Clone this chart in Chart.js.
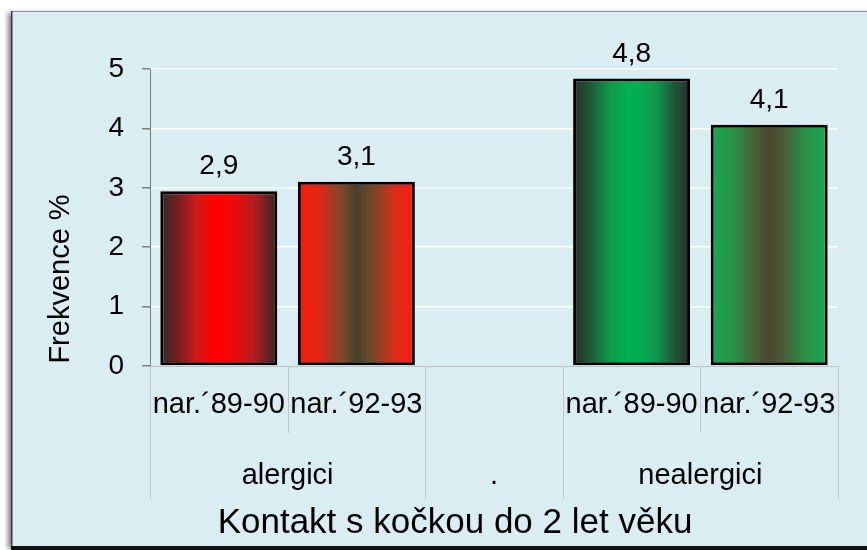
<!DOCTYPE html>
<html>
<head>
<meta charset="utf-8">
<script src="https://cdn.jsdelivr.net/npm/chart.js@4"></script>
<style>
  html, body { margin: 0; padding: 0; background: #fff; }
  #wrap { width: 867px; height: 550px; }
</style>
</head>
<body>
<div id="wrap"><canvas id="chart"></canvas></div>
<script>
// data
const categories = ['nar.´89-90', 'nar.´92-93', '', 'nar.´89-90', 'nar.´92-93'];
const groups = ['alergici', '.', 'nealergici'];
const groupSpans = [2, 1, 2];
const frekvence = [2.94, 3.1, null, 4.84, 4.06];
const yMin = 0;
const yMax = 5;
const yStep = 1;
const yTitle = 'Frekvence %';
const xTitle = 'Kontakt s kočkou do 2 let věku';

const FONT = "'Liberation Sans', Arial, sans-serif";
const BAR_PCT = 0.85;

// gradient stops for each bar (left -> right)
const barStops = [
  [[0, '#302929'], [0.14, '#6E1F1F'], [0.32, '#D41818'], [0.46, '#FF0000'], [0.6, '#F20808'], [0.8, '#B41C1C'], [1, '#352727']],
  [[0, '#FA1A0E'], [0.18, '#E42614'], [0.38, '#7A4A2A'], [0.5, '#46402A'], [0.62, '#6E4A2A'], [0.82, '#D42E1C'], [1, '#FF1A0E']],
  [[0, '#888'], [1, '#888']],
  [[0, '#272C29'], [0.15, '#1E5A37'], [0.32, '#0F9A4A'], [0.47, '#00B050'], [0.57, '#05AE50'], [0.72, '#10954A'], [0.86, '#1F5837'], [1, '#282D2A']],
  [[0, '#16A84F'], [0.2, '#2A9048'], [0.38, '#4A6035'], [0.5, '#4B4530'], [0.62, '#4A5A35'], [0.8, '#2A9048'], [1, '#16A84F']],
];

const barFill = (ctx) => {
  const chart = ctx.chart;
  const stops = barStops[ctx.dataIndex] || barStops[0];
  const x = chart.scales.x;
  if (!x || !chart.chartArea) return stops[0][1];
  const step = x.width / categories.length;
  const cx = x.getPixelForValue(ctx.dataIndex);
  const half = step * BAR_PCT / 2;
  const g = chart.ctx.createLinearGradient(cx - half, 0, cx + half, 0);
  stops.forEach(([o, c]) => g.addColorStop(o, c));
  return g;
};

// pozadí a rámeček
const framePlugin = {
  id: 'frame',
  beforeDraw(chart) {
    const c = chart.ctx;
    const w = chart.width;
    c.save();
    c.fillStyle = '#ffffff';
    c.fillRect(0, 0, w, chart.height);
    c.shadowColor = 'rgba(0,0,0,0.5)';
    c.shadowBlur = 5;
    c.shadowOffsetX = -3;
    c.shadowOffsetY = 2;
    c.fillStyle = '#DAEDF3';
    c.fillRect(11, 11, w, 536);
    c.restore();
    c.save();
    c.fillStyle = '#8C8C8C';
    c.fillRect(11, 11, w, 1);
    c.fillStyle = '#3A3A3A';
    c.fillRect(11, 11, 1.5, 536);
    c.fillStyle = '#111111';
    c.fillRect(11, 546, w, 4);
    c.restore();
  }
};

// víceúrovňová osa x, popisky os
const axisPlugin = {
  id: 'multiAxis',
  afterDraw(chart) {
    const c = chart.ctx;
    const x = chart.scales.x;
    const bottom = chart.chartArea.bottom;
    const step = x.width / categories.length;
    const vline = (px, len) => {
      const xx = Math.round(px) + 0.5;
      c.beginPath();
      c.moveTo(xx, bottom);
      c.lineTo(xx, bottom + len);
      c.stroke();
    };
    c.save();
    c.strokeStyle = '#C4C4C4';
    c.lineWidth = 1;
    c.fillStyle = '#000';
    c.font = '29px ' + FONT;
    c.textAlign = 'center';
    c.textBaseline = 'middle';
    let idx = 0;
    groups.forEach((g, gi) => {
      const span = groupSpans[gi];
      vline(x.left + idx * step, 133);
      for (let k = 1; k < span; k++) vline(x.left + (idx + k) * step, 67);
      c.fillText(g, x.left + (idx + span / 2) * step, bottom + 110);
      idx += span;
    });
    vline(x.left + idx * step, 133);

    c.font = '35px ' + FONT;
    c.fillText(xTitle, 455, 523);

    c.translate(61, 279);
    c.rotate(-Math.PI / 2);
    c.font = '29px ' + FONT;
    c.fillText(yTitle, 0, 0);
    c.restore();
  }
};

// hodnoty nad sloupci
const valuePlugin = {
  id: 'values',
  afterDatasetsDraw(chart) {
    const c = chart.ctx;
    const meta = chart.getDatasetMeta(0);
    c.save();
    c.fillStyle = '#000';
    c.font = '28px ' + FONT;
    c.textAlign = 'center';
    c.textBaseline = 'alphabetic';
    meta.data.forEach((el, i) => {
      const v = frekvence[i];
      if (v == null) return;
      c.fillText(v.toFixed(1).replace('.', ','), el.x, el.y - 17);
    });
    c.restore();
  }
};

new Chart(document.getElementById('chart').getContext('2d'), {
  type: 'bar',
  data: {
    labels: categories,
    datasets: [{
      data: frekvence,
      backgroundColor: barFill,
      borderColor: '#000',
      borderWidth: 3,
      borderSkipped: false,
      barPercentage: BAR_PCT,
      categoryPercentage: 1,
    }],
  },
  options: {
    responsive: true,
    maintainAspectRatio: false,
    animation: false,
    layout: { padding: { top: 69, right: 29, bottom: 0, left: 0 } },
    plugins: {
      legend: { display: false },
      tooltip: { enabled: false },
    },
    scales: {
      x: {
        afterFit: (s) => { s.height = 184; },
        grid: { display: true, drawOnChartArea: false, drawTicks: false },
        border: { display: true, color: '#BFBFBF', width: 1 },
        ticks: {
          autoSkip: false,
          maxRotation: 0,
          minRotation: 0,
          padding: 22,
          color: '#000',
          font: { size: 29, family: FONT },
        },
      },
      y: {
        min: yMin,
        max: yMax,
        afterFit: (s) => { s.width = 150; },
        grid: {
          color: (ctx) => (ctx.tick && ctx.tick.value === 0 ? 'rgba(0,0,0,0)' : '#FFFFFF'),
          lineWidth: 1.5,
          tickColor: '#7F7F7F',
          tickLength: 8,
        },
        border: { display: true, color: '#7F7F7F', width: 1 },
        ticks: {
          stepSize: yStep,
          padding: 18,
          color: '#000',
          font: { size: 28, family: FONT },
        },
      },
    },
  },
  plugins: [framePlugin, axisPlugin, valuePlugin],
});
</script>
</body>
</html>
